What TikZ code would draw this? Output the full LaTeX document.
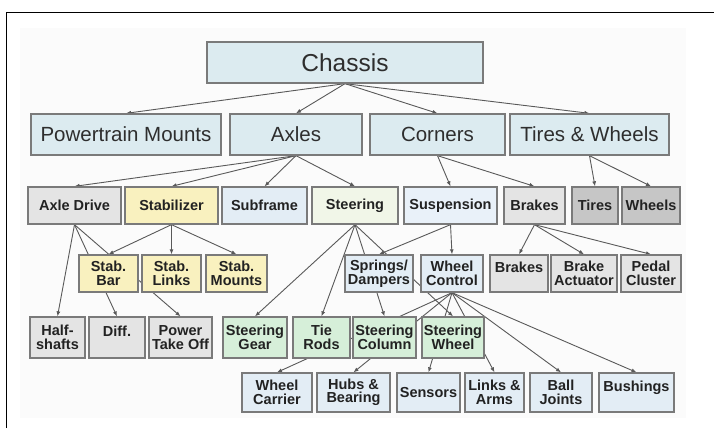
\documentclass[tikz,border=0pt]{standalone}
\usepackage{fontspec}
\setmainfont{Liberation Sans}
\usepackage{xcolor}
\usepackage{tikz}
\usetikzlibrary{arrows.meta}
\definecolor{CHCanvas}{HTML}{FBFBFB}
\definecolor{CHLine}{HTML}{7A7A7A}
\definecolor{CHLink}{HTML}{595959}
\definecolor{CHText}{HTML}{2E2E2E}
\definecolor{CHDark}{HTML}{222222}
\definecolor{CHBlue}{HTML}{DCEBF0}
\definecolor{CHPale}{HTML}{E3EDF5}
\definecolor{CHSusp}{HTML}{E9F1F9}
\definecolor{CHGrey}{HTML}{E4E4E4}
\definecolor{CHDarkGrey}{HTML}{C6C6C6}
\definecolor{CHYellow}{HTML}{F9F1BF}
\definecolor{CHGreen}{HTML}{D6EFD9}
\definecolor{CHMint}{HTML}{F1F6E8}
\pgfdeclarelayer{canvas}
\pgfdeclarelayer{links}
\pgfsetlayers{canvas,links,main}
\tikzset{
  box/.style={draw=CHLine,line width=1.3pt,inner sep=0pt,align=center},
  topbox/.style={box,fill=CHBlue,font=\fontsize{24.5}{28}\selectfont,text=CHText},
  midbox/.style={box,fill=CHBlue,minimum height=41pt,font=\fontsize{20.5}{24}\selectfont,text=CHText},
  leafbox/.style={box,font=\fontsize{14.5}{13.5}\selectfont\bfseries,text=CHDark},
  link/.style={draw=CHLink,line width=0.9pt,-{Latex[length=5pt,width=4pt]}}
}

\begin{document}
\begin{tikzpicture}[x=1pt,y=-1pt]
\useasboundingbox (0,0) rectangle (714,428);
\begin{pgfonlayer}{canvas}
\fill[CHCanvas] (20,28) rectangle (686,418);
\end{pgfonlayer}
\draw[black,line width=0.8pt] (6,428) -- (6,12) -- (714,12);
\node[topbox,minimum width=276pt,minimum height=41pt] (chassis) at (345,62.5) {Chassis};
\node[midbox,minimum width=190pt] (pm) at (126,134.5) {Powertrain Mounts};
\node[midbox,minimum width=132pt] (axles) at (296,134.5) {Axles};
\node[midbox,minimum width=135pt] (corners) at (437.5,134.5) {Corners};
\node[midbox,minimum width=159pt] (tw) at (589.5,134.5) {Tires \& Wheels};
\node[leafbox,fill=CHGrey,minimum width=93pt,minimum height=37pt] (axledrive) at (74.5,205.5) {Axle Drive};
\node[leafbox,fill=CHYellow,minimum width=93pt,minimum height=37pt] (stabilizer) at (171.5,205.5) {Stabilizer};
\node[leafbox,fill=CHPale,minimum width=85pt,minimum height=37pt] (subframe) at (264.5,205.5) {Subframe};
\node[leafbox,fill=CHMint,minimum width=86pt,minimum height=37pt] (steering) at (355,205.5) {Steering};
\node[leafbox,fill=CHSusp,minimum width=93pt,minimum height=37pt] (suspension) at (450.5,205.5) {Suspension};
\node[leafbox,fill=CHGrey,minimum width=61pt,minimum height=37pt] (brakes) at (534.5,205.5) {Brakes};
\node[leafbox,fill=CHDarkGrey,minimum width=46pt,minimum height=37pt] (tires) at (595,205.5) {Tires};
\node[leafbox,fill=CHDarkGrey,minimum width=58pt,minimum height=37pt] (wheels) at (651,205.5) {Wheels};
\node[leafbox,fill=CHYellow,minimum width=59pt,minimum height=37pt] (stabbar) at (108.5,273.5) {Stab.\\Bar};
\node[leafbox,fill=CHYellow,minimum width=59pt,minimum height=37pt] (stablinks) at (171.5,273.5) {Stab.\\Links};
\node[leafbox,fill=CHYellow,minimum width=61pt,minimum height=37pt] (stabmounts) at (236.5,273.5) {Stab.\\Mounts};
\node[leafbox,fill=CHPale,minimum width=68pt,minimum height=37pt] (springs) at (379,273.5) {Springs/\\Dampers};
\node[leafbox,fill=CHPale,minimum width=62pt,minimum height=37pt] (wheelctrl) at (452,273.5) {Wheel\\Control};
\node[leafbox,fill=CHGrey,minimum width=58pt,minimum height=37pt] (brakeunit) at (519,273.5) {Brakes\\~};
\node[leafbox,fill=CHGrey,minimum width=66pt,minimum height=37pt] (actuator) at (584,273.5) {Brake\\Actuator};
\node[leafbox,fill=CHGrey,minimum width=60pt,minimum height=37pt] (pedal) at (651,273.5) {Pedal\\Cluster};
\node[leafbox,fill=CHGrey,minimum width=55pt,minimum height=41pt] (halfshafts) at (57.5,337.5) {Half-\\shafts};
\node[leafbox,fill=CHGrey,minimum width=56pt,minimum height=41pt] (diff) at (117,337.5) {Diff.\\~};
\node[leafbox,fill=CHGrey,minimum width=63pt,minimum height=41pt] (pto) at (180.5,337.5) {Power\\Take Off};
\node[leafbox,fill=CHGreen,minimum width=64pt,minimum height=41pt] (gear) at (255,337.5) {Steering\\Gear};
\node[leafbox,fill=CHGreen,minimum width=57pt,minimum height=41pt] (tierods) at (321.5,337.5) {Tie\\Rods};
\node[leafbox,fill=CHGreen,minimum width=63pt,minimum height=41pt] (column) at (384.5,337.5) {Steering\\Column};
\node[leafbox,fill=CHGreen,minimum width=62pt,minimum height=41pt] (steerwheel) at (453,337.5) {Steering\\Wheel};
\node[leafbox,fill=CHPale,minimum width=70pt,minimum height=39pt] (carrier) at (277,392.5) {Wheel\\Carrier};
\node[leafbox,fill=CHPale,minimum width=73pt,minimum height=39pt] (hubs) at (353.5,392.5) {Hubs \&\\Bearing};
\node[leafbox,fill=CHPale,minimum width=63pt,minimum height=39pt] (sensors) at (428.5,392.5) {Sensors};
\node[leafbox,fill=CHPale,minimum width=59pt,minimum height=39pt] (links) at (494.5,392.5) {Links \&\\Arms};
\node[leafbox,fill=CHPale,minimum width=62pt,minimum height=39pt] (balljoints) at (561,392.5) {Ball\\Joints};
\node[leafbox,fill=CHPale,minimum width=75pt,minimum height=39pt] (bushings) at (636.5,392.5) {Bushings\\~};
\begin{pgfonlayer}{links}
\foreach \k in {pm,axles,corners,tw}
  \draw[link] (chassis.south) -- (\k.north);
\foreach \k in {axledrive,stabilizer,subframe,steering}
  \draw[link] (axles.south) -- (\k.north);
\foreach \k in {suspension,brakes}
  \draw[link] (corners.south) -- (\k.north);
\foreach \k in {tires,wheels}
  \draw[link] (tw.south) -- (\k.north);
\foreach \k in {halfshafts,diff,pto}
  \draw[link] (axledrive.south) -- (\k.north);
\foreach \k in {stabbar,stablinks,stabmounts}
  \draw[link] (stabilizer.south) -- (\k.north);
\foreach \k in {gear,tierods,column,steerwheel}
  \draw[link] (steering.south) -- (\k.north);
\foreach \k in {springs,wheelctrl}
  \draw[link] (suspension.south) -- (\k.north);
\foreach \k in {brakeunit,actuator,pedal}
  \draw[link] (brakes.south) -- (\k.north);
\foreach \k in {carrier,hubs,sensors,links,balljoints,bushings}
  \draw[link] (wheelctrl.south) -- (\k.north);
\end{pgfonlayer}
\end{tikzpicture}
\end{document}
